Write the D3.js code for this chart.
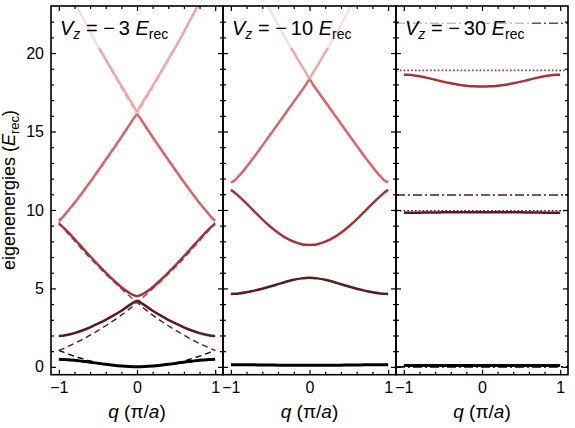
<!DOCTYPE html>
<html lang="en">
<head>
  <meta charset="UTF-8">
  <title>Band structure</title>
  <script src="https://d3js.org/d3.v7.min.js"></script>
  <style>
    body { margin: 0; background: #fff; }
    svg { font-family: "Liberation Sans", Arial, sans-serif; }
  </style>
</head>
<body>
  <svg id="bands" width="575" height="428"></svg>
  <script>
    // quasi-momentum grid (units of pi/a), denser near the crossings
    const qGrid = [-1, -0.95, -0.9, -0.8, -0.7, -0.6, -0.5, -0.4, -0.3, -0.2, -0.1, -0.05, 0,
      0.05, 0.1, 0.2, 0.3, 0.4, 0.5, 0.6, 0.7, 0.8, 0.9, 0.95, 1];

    const qMajor = [-1, 0, 1];
    const qMinor = [-0.8, -0.6, -0.4, -0.2, 0.2, 0.4, 0.6, 0.8];
    const eMajor = [0, 5, 10, 15, 20];
    const eMinor = [1, 2, 3, 4, 6, 7, 8, 9, 11, 12, 13, 14, 16, 17, 18, 19, 21, 22];
    const depthLabels = ["3", "10", "30"];

    // Vz = -3 Erec : free-particle bands (dashed)
    const v3Free1 = [1.05, 0.95, 0.86, 0.68, 0.52, 0.38, 0.27, 0.17, 0.1, 0.05, 0.02, 0.01, 0, 0.01, 0.02, 0.05, 0.1, 0.17, 0.27, 0.38, 0.52, 0.68, 0.86, 0.95, 1.05];
    const v3Free2 = [1.05, 1.15, 1.26, 1.49, 1.74, 2.02, 2.31, 2.62, 2.95, 3.3, 3.68, 3.88, 4.1, 3.88, 3.68, 3.3, 2.95, 2.62, 2.31, 2.02, 1.74, 1.49, 1.26, 1.15, 1.05];
    const v3Free3 = [9.2, 8.9, 8.6, 8.03, 7.47, 6.93, 6.42, 5.92, 5.44, 4.98, 4.53, 4.32, 4.1, 4.32, 4.53, 4.98, 5.44, 5.92, 6.42, 6.93, 7.47, 8.03, 8.6, 8.9, 9.2];
    const v3Free4 = [9.2, 9.5, 9.8, 10.43, 11.08, 11.74, 12.43, 13.13, 13.86, 14.6, 15.36, 15.75, 16.12, 15.75, 15.36, 14.6, 13.86, 13.13, 12.43, 11.74, 11.08, 10.43, 9.8, 9.5, 9.2];
    const v3Free5 = [25.2, 24.7, 24.2, 23.2, 22.25, 21.32, 20.41, 19.51, 18.64, 17.78, 16.94, 16.53, 16.12, 16.53, 16.94, 17.78, 18.64, 19.51, 20.41, 21.32, 22.25, 23.2, 24.2, 24.7, 25.2];

    // Vz = -3 Erec : lattice bands (solid)
    const v3Band1 = [0.48, 0.475, 0.46, 0.42, 0.36, 0.3, 0.23, 0.16, 0.1, 0.05, 0.015, 0.005, 0, 0.005, 0.015, 0.05, 0.1, 0.16, 0.23, 0.3, 0.36, 0.42, 0.46, 0.475, 0.48];
    const v3Band2 = [1.97, 1.98, 2.03, 2.15, 2.32, 2.52, 2.75, 3.0, 3.28, 3.58, 3.92, 4.08, 4.22, 4.08, 3.92, 3.58, 3.28, 3.0, 2.75, 2.52, 2.32, 2.15, 2.03, 1.98, 1.97];
    const v3Band3 = [9.1, 8.92, 8.68, 8.15, 7.6, 7.05, 6.52, 6.0, 5.52, 5.08, 4.72, 4.58, 4.5, 4.58, 4.72, 5.08, 5.52, 6.0, 6.52, 7.05, 7.6, 8.15, 8.68, 8.92, 9.1];
    const v3Band4 = [9.32, 9.55, 9.85, 10.45, 11.1, 11.78, 12.48, 13.2, 13.92, 14.65, 15.4, 15.78, 16.05, 15.78, 15.4, 14.65, 13.92, 13.2, 12.48, 11.78, 11.1, 10.45, 9.85, 9.55, 9.32];
    const v3Band5 = [25.1, 24.6, 24.15, 23.2, 22.3, 21.35, 20.45, 19.6, 18.75, 17.9, 17.1, 16.7, 16.3, 16.7, 17.1, 17.9, 18.75, 19.6, 20.45, 21.35, 22.3, 23.2, 24.15, 24.6, 25.1];

    // Vz = -10 Erec
    const v10Band1 = [0.14, 0.14, 0.14, 0.13, 0.13, 0.12, 0.12, 0.11, 0.11, 0.1, 0.1, 0.1, 0.1, 0.1, 0.1, 0.1, 0.11, 0.11, 0.12, 0.12, 0.13, 0.13, 0.14, 0.14, 0.14];
    const v10Band2 = [4.65, 4.66, 4.68, 4.75, 4.86, 4.98, 5.12, 5.27, 5.42, 5.55, 5.64, 5.67, 5.68, 5.67, 5.64, 5.55, 5.42, 5.27, 5.12, 4.98, 4.86, 4.75, 4.68, 4.66, 4.65];
    const v10Band3 = [11.28, 11.1, 10.88, 10.4, 9.9, 9.4, 8.95, 8.55, 8.22, 7.98, 7.82, 7.78, 7.77, 7.78, 7.82, 7.98, 8.22, 8.55, 8.95, 9.4, 9.9, 10.4, 10.88, 11.1, 11.28];
    const v10Band4 = [11.75, 11.9, 12.15, 12.75, 13.4, 14.1, 14.8, 15.5, 16.2, 16.9, 17.6, 17.95, 18.3, 17.95, 17.6, 16.9, 16.2, 15.5, 14.8, 14.1, 13.4, 12.75, 12.15, 11.9, 11.75];
    const v10Band5 = [27.0, 26.65, 26.3, 25.5, 24.6, 23.7, 22.75, 21.8, 20.9, 20.05, 19.2, 18.8, 18.4, 18.8, 19.2, 20.05, 20.9, 21.8, 22.75, 23.7, 24.6, 25.5, 26.3, 26.65, 27.0];

    // Vz = -30 Erec
    const v30Band1 = [0.08, 0.08, 0.08, 0.08, 0.08, 0.08, 0.08, 0.08, 0.08, 0.08, 0.08, 0.08, 0.08, 0.08, 0.08, 0.08, 0.08, 0.08, 0.08, 0.08, 0.08, 0.08, 0.08, 0.08, 0.08];
    const v30Band2 = [9.83, 9.83, 9.83, 9.83, 9.84, 9.84, 9.85, 9.85, 9.86, 9.86, 9.86, 9.86, 9.86, 9.86, 9.86, 9.86, 9.86, 9.85, 9.85, 9.84, 9.84, 9.83, 9.83, 9.83, 9.83];
    const v30Band3 = [18.62, 18.62, 18.6, 18.52, 18.42, 18.3, 18.18, 18.07, 17.98, 17.92, 17.88, 17.87, 17.87, 17.87, 17.88, 17.92, 17.98, 18.07, 18.18, 18.3, 18.42, 18.52, 18.6, 18.62, 18.62];
    const v30Harmonic = [0, 10.95, 21.9];      // dash-dot levels
    const v30Anharmonic = [9.95, 18.9];        // dotted levels

    const bandColors = ["#000000", "#5a1a1f", "#a3343a", "#d4676a", "#eba8a8"];

    const svg = d3.select("svg#bands");
    const plotTop = 6;
    const plotBottom = 374.7;
    const yScale = d3.scaleLinear().domain([-0.5, 23]).range([plotBottom, plotTop]);

    const panels = [
      { left: 51, right: 223, solid: [v3Band1, v3Band2, v3Band3, v3Band4, v3Band5],
        dashed: [v3Free1, v3Free2, v3Free3, v3Free4, v3Free5] },
      { left: 223, right: 396, solid: [v10Band1, v10Band2, v10Band3, v10Band4, v10Band5], dashed: [] },
      { left: 396, right: 568, solid: [v30Band1, v30Band2, v30Band3], dashed: [] }
    ];

    const fontFamily = "Liberation Sans, Arial, sans-serif";

    panels.forEach((p, i) => {
      const xScale = d3.scaleLinear().domain([-1.1, 1.1]).range([p.left, p.right]);
      const line = d3.line()
        .x((d, j) => xScale(qGrid[j]))
        .y(d => yScale(d))
        .curve(d3.curveMonotoneX);

      svg.append("clipPath").attr("id", "clip" + i)
        .append("rect")
        .attr("x", p.left).attr("y", plotTop)
        .attr("width", p.right - p.left).attr("height", plotBottom - plotTop);

      const area = svg.append("g").attr("clip-path", `url(#clip${i})`);

      // reference levels for the deep lattice
      if (i === 2) {
        v30Harmonic.forEach((e, k) => {
          area.append("line")
            .attr("x1", xScale(-1.1)).attr("x2", xScale(1.1))
            .attr("y1", yScale(e)).attr("y2", yScale(e))
            .attr("stroke", bandColors[k])
            .attr("stroke-width", 1.6)
            .attr("stroke-dasharray", "9,3,2,3");
        });
        v30Anharmonic.forEach((e, k) => {
          area.append("line")
            .attr("x1", xScale(-1.1)).attr("x2", xScale(1.1))
            .attr("y1", yScale(e)).attr("y2", yScale(e))
            .attr("stroke", bandColors[k + 1])
            .attr("stroke-width", 1.6)
            .attr("stroke-dasharray", "1.6,2.2");
        });
      }

      p.dashed.forEach((vals, k) => {
        area.append("path")
          .attr("d", line(vals))
          .attr("fill", "none")
          .attr("stroke", bandColors[k])
          .attr("stroke-width", 1.4)
          .attr("stroke-dasharray", "6,4");
      });

      p.solid.forEach((vals, k) => {
        area.append("path")
          .attr("d", line(vals))
          .attr("fill", "none")
          .attr("stroke", bandColors[k])
          .attr("stroke-width", k === 0 ? 3 : 2.5);
      });

      // title with a translucent white box behind it
      const titleBox = svg.append("rect");
      const title = svg.append("text")
        .attr("x", p.left + 9).attr("y", 35)
        .attr("font-size", 20).attr("font-family", fontFamily);
      title.append("tspan").attr("font-style", "italic").text("V");
      title.append("tspan").attr("font-style", "italic").attr("font-size", 14).attr("dy", 4).text("z");
      title.append("tspan").attr("dy", -4).text(" = \u2212\u2009" + depthLabels[i] + " ");
      title.append("tspan").attr("font-style", "italic").text("E");
      title.append("tspan").attr("font-size", 14).attr("dy", 4).text("rec");
      const tw = title.node().getComputedTextLength();
      titleBox
        .attr("x", p.left + 2).attr("y", plotTop + 1)
        .attr("width", tw + 12).attr("height", 41)
        .attr("fill", "#fff").attr("fill-opacity", 0.62);

      // ticks on all four sides, pointing inward
      const axes = [
        { axis: d3.axisBottom(xScale).tickValues(qMajor).tickSize(-5).tickPadding(7).tickFormat(d3.format("d")), t: `translate(0,${plotBottom})`, labels: true },
        { axis: d3.axisBottom(xScale).tickValues(qMinor).tickSize(-3), t: `translate(0,${plotBottom})` },
        { axis: d3.axisTop(xScale).tickValues(qMajor).tickSize(-5), t: `translate(0,${plotTop})` },
        { axis: d3.axisTop(xScale).tickValues(qMinor).tickSize(-3), t: `translate(0,${plotTop})` },
        { axis: d3.axisLeft(yScale).tickValues(eMajor).tickSize(-5).tickPadding(7).tickFormat(d3.format("d")), t: `translate(${p.left},0)`, labels: i === 0 },
        { axis: d3.axisLeft(yScale).tickValues(eMinor).tickSize(-3), t: `translate(${p.left},0)` },
        { axis: d3.axisRight(yScale).tickValues(eMajor).tickSize(-5), t: `translate(${p.right},0)` },
        { axis: d3.axisRight(yScale).tickValues(eMinor).tickSize(-3), t: `translate(${p.right},0)` }
      ];
      axes.forEach(a => {
        if (!a.labels) a.axis.tickFormat("");
        const g = svg.append("g")
          .attr("transform", a.t)
          .call(a.axis)
          .attr("font-size", 16)
          .attr("font-family", fontFamily);
        g.select(".domain").remove();
        g.selectAll("line").attr("stroke", "#000").attr("stroke-width", 1.2);
        g.selectAll("text").attr("fill", "#000");
      });

      svg.append("rect")
        .attr("x", p.left).attr("y", plotTop)
        .attr("width", p.right - p.left).attr("height", plotBottom - plotTop)
        .attr("fill", "none").attr("stroke", "#000").attr("stroke-width", 1.6);

      // x axis label
      const xl = svg.append("text")
        .attr("x", xScale(0)).attr("y", 418)
        .attr("text-anchor", "middle")
        .attr("font-size", 19).attr("font-family", fontFamily);
      xl.append("tspan").attr("font-style", "italic").text("q");
      xl.append("tspan").text(" (\u03c0/");
      xl.append("tspan").attr("font-style", "italic").text("a");
      xl.append("tspan").text(")");
    });

    // y axis label
    const yl = svg.append("text")
      .attr("transform", "translate(15,190) rotate(-90)")
      .attr("text-anchor", "middle")
      .attr("font-size", 18).attr("font-family", fontFamily);
    yl.append("tspan").text("eigenenergies (");
    yl.append("tspan").attr("font-style", "italic").text("E");
    yl.append("tspan").attr("font-size", 13).attr("dy", 4).text("rec");
    yl.append("tspan").attr("dy", -4).text(")");
  </script>
</body>
</html>
